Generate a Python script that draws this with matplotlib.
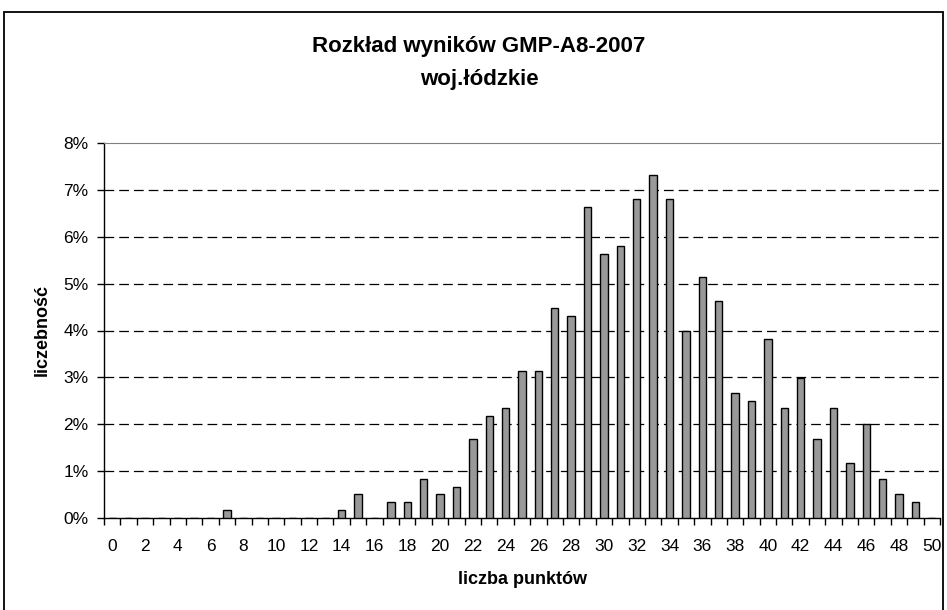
import matplotlib
matplotlib.use('Agg')
import matplotlib.pyplot as plt
from matplotlib.patches import Rectangle
from matplotlib.ticker import FixedLocator, FuncFormatter

plt.rcParams['font.family'] = ['Liberation Sans', 'DejaVu Sans']
plt.rcParams['lines.scale_dashes'] = False

## data (percent of students per score)
points = list(range(0, 51))
share = [0, 0, 0, 0, 0, 0, 0, 0.18, 0, 0,
         0, 0, 0, 0, 0.18, 0.51, 0, 0.34, 0.34, 0.84,
         0.51, 0.67, 1.68, 2.18, 2.34, 3.14, 3.14, 4.47, 4.30, 6.64,
         5.64, 5.81, 6.81, 7.31, 6.81, 3.99, 5.14, 4.64, 2.67, 2.50,
         3.81, 2.34, 2.99, 1.68, 2.34, 1.18, 2.00, 0.84, 0.51, 0.34,
         0]
y_ticks = [0, 1, 2, 3, 4, 5, 6, 7, 8]

fig = plt.figure(figsize=(9.47, 6.10), dpi=100)
ax = fig.add_axes([104/947, 1 - 518/610, (940 - 104)/947, (518 - 143)/610])

# outer chart frame
fig.patches.append(Rectangle((4/947, -0.05), 939/947, 1.05 - 12/610,
                             transform=fig.transFigure, fill=False,
                             edgecolor='black', linewidth=1.3))

ax.bar(points, share, width=0.45, color='#999999', edgecolor='black',
       linewidth=1.0, zorder=3)

ax.set_xlim(-0.5, 50.5)
ax.set_ylim(0, 8)

## gridlines
for v in y_ticks[1:-1]:
    ax.axhline(v, color='black', linewidth=0.9, linestyle=(0, (7, 3.6)), zorder=1)

ax.set_yticks(y_ticks)
ax.yaxis.set_major_formatter(FuncFormatter(lambda v, p: '%d%%' % v))
ax.xaxis.set_major_locator(FixedLocator(points[::2]))
ax.xaxis.set_minor_locator(FixedLocator([p - 0.5 for p in points] + [50.5]))
ax.set_xticklabels([str(p) for p in points[::2]])
ax.tick_params(axis='x', which='major', length=0, pad=15, labelsize=12.5)
ax.tick_params(axis='x', which='minor', length=5, width=1, direction='out')
ax.tick_params(axis='y', length=5, width=1, direction='out', labelsize=12.5, pad=6)

ax.spines['right'].set_visible(False)
ax.spines['top'].set_color('#808080')
ax.spines['left'].set_linewidth(1.0)
ax.spines['bottom'].set_linewidth(1.0)

ax.set_xlabel('liczba punktów', fontsize=13, fontweight='bold', labelpad=12)
ax.set_ylabel('liczebność', fontsize=13, fontweight='bold', labelpad=9)

cx = 479 / 947
fig.text(cx, 1 - 52/610, 'Rozkład wyników GMP-A8-2007',
         ha='center', va='baseline', fontsize=16, fontweight='bold')
fig.text(cx, 1 - 85/610, 'woj.łódzkie',
         ha='center', va='baseline', fontsize=16, fontweight='bold')

fig.savefig('out.png', dpi=100)
